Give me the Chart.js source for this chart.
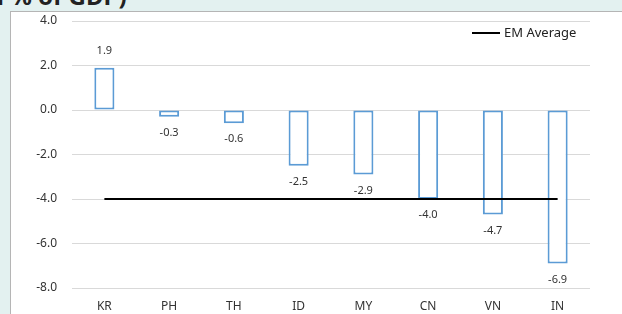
<!DOCTYPE html>
<html>
<head>
<meta charset="utf-8">
<script src="https://cdn.jsdelivr.net/npm/chart.js@4.4.1/dist/chart.umd.min.js"></script>
<style>
  html, body { margin: 0; padding: 0; }
  body { width: 622px; height: 314px; background: #e3f1f0; position: relative; overflow: hidden; font-family: "Noto Sans", sans-serif; }
  #title { position: absolute; left: -27px; top: -21px; font: bold 24px "Noto Sans", sans-serif; color: #222; white-space: nowrap; }
  #panel { position: absolute; left: 10px; top: 11px; width: 611px; height: 302px; background: #fff; border-left: 1px solid #b5b5b5; border-top: 1px solid #b5b5b5; }
  canvas { display: block; }
</style>
</head>
<body>
<div id="title">(in % of GDP)</div>
<div id="panel"><canvas id="balance" width="611" height="302"></canvas></div>
<script>
const countries = ['KR','PH','TH','ID','MY','CN','VN','IN']
const balance = [1.9,-0.3,-0.6,-2.5,-2.9,-4.0,-4.7,-6.9]
const emAverage = [-4.0,-4.0,-4.0,-4.0,-4.0,-4.0,-4.0,-4.0]
const yTicks = [-8,-6,-4,-2,0,2,4]

// value labels above positive bars, below negative ones
const valueLabels = {
    id:'valueLabels',
    afterDatasetsDraw(chart){
        const ctx = chart.ctx
        const meta = chart.getDatasetMeta(0)
        ctx.save()
        ctx.font = '11px "Noto Sans"'
        ctx.fillStyle = '#333'
        ctx.textAlign = 'center'
        ctx.textBaseline = 'middle'
        meta.data.forEach((bar, i) => {
            const v = balance[i]
            const y = v >= 0 ? bar.y - 17 : bar.y + 16
            ctx.fillText(v.toFixed(1), bar.x, y)
        })
        ctx.restore()
    }
}

const lineLegend = {
    id:'lineLegend',
    afterDraw(chart){
        const ctx = chart.ctx
        const right = chart.chartArea.right
        const top = chart.chartArea.top
        ctx.save()
        ctx.strokeStyle = '#000'
        ctx.lineWidth = 2
        ctx.beginPath()
        ctx.moveTo(right - 118, top + 12)
        ctx.lineTo(right - 90, top + 12)
        ctx.stroke()
        ctx.font = '13px "Noto Sans"'
        ctx.fillStyle = '#222'
        ctx.textBaseline = 'middle'
        ctx.fillText('EM Average', right - 86, top + 12)
        ctx.restore()
    }
}

const balanceChart = document.getElementById('balance').getContext('2d')
const chart = new Chart(balanceChart,{
    type:'bar',
    data:{
        labels:countries,
        datasets:[{
            label:'Balance',
            data:balance,
            backgroundColor:'#fff',
            borderColor:'#5b9bd5',
            borderWidth:2,
            borderSkipped:false,
            barPercentage:0.31,
            categoryPercentage:1,
            order:2
        },{
            type:'line',
            label:'EM Average',
            data:emAverage,
            borderColor:'#000',
            borderWidth:2,
            pointRadius:0,
            fill:false,
            order:1
        }]
    },
    options:{
        responsive:false,
        animation:false,
        layout:{
            padding:{ top:9, right:32, left:0, bottom:0 }
        },
        scales:{
            x:{
                afterFit(scale){ scale.height = 26 },
                grid:{ display:false, drawTicks:false },
                border:{ display:false },
                ticks:{ color:'#333', font:{ family:'Noto Sans', size:12 }, padding:11 }
            },
            y:{
                min:-8,
                max:4,
                afterBuildTicks(scale){ scale.ticks = yTicks.map(v => ({ value:v })) },
                afterFit(scale){
                    scale.width = 61
                    scale.paddingTop = 0
                    scale.paddingBottom = 0
                },
                grid:{ color:'#d9d9d9', lineWidth:1, drawTicks:false },
                border:{ display:false },
                ticks:{
                    color:'#333',
                    font:{ family:'Noto Sans', size:12 },
                    padding:15,
                    callback:v => v.toFixed(1)
                }
            }
        },
        plugins:{
            legend:{ display:false },
            tooltip:{ enabled:false }
        }
    },
    plugins:[valueLabels, lineLegend]
})
</script>
</body>
</html>
